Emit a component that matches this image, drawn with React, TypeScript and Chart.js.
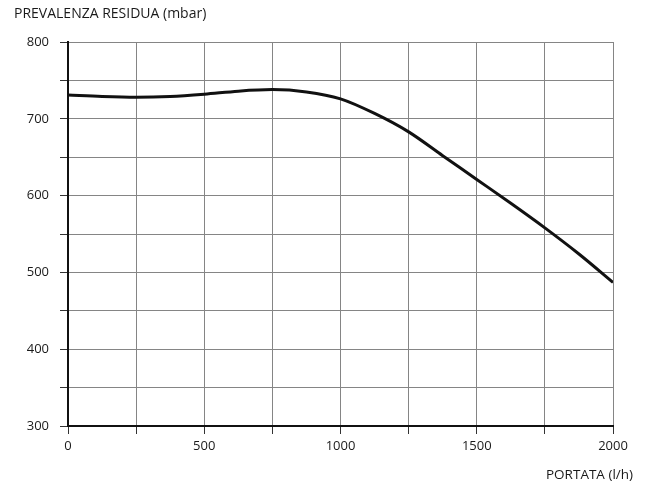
import React, { useEffect, useRef } from "react";
import { Chart, registerables } from "chart.js";

Chart.register(...registerables);

const flowRates = [0, 125, 250, 375, 500, 625, 750, 875, 1000, 1125, 1250, 1375, 1500, 1625, 1750, 1875, 2000];
const headValues = [731, 729, 728, 729, 732, 736, 738, 735, 726, 707, 683, 652, 621, 590, 558, 524, 487];
const yAxisTitle = "PREVALENZA RESIDUA (mbar)";
const xAxisTitle = "PORTATA (l/h)";
const FONT = "'Open Sans', 'Noto Sans', sans-serif";

export default function App() {
  const ref = useRef<HTMLCanvasElement>(null);
  useEffect(() => {
    document.body.style.margin = "0";
    const titles = {
      id: "titles",
      afterDraw(chart: any) {
        const ctx = chart.ctx;
        ctx.save();
        ctx.fillStyle = "#1a1a1a";
        ctx.textBaseline = "middle";
        ctx.textAlign = "left";
        ctx.font = `14px ${FONT}`;
        ctx.fillText(yAxisTitle, 14, 14);
        ctx.textAlign = "right";
        ctx.font = `13.5px ${FONT}`;
        ctx.fillText(xAxisTitle, 633, 475);
        ctx.restore();
      },
    };
    const chart = new Chart(ref.current!, {
      type: "line",
      data: {
        datasets: [
          {
            data: flowRates.map((x, i) => ({ x, y: headValues[i] })),
            borderColor: "#111",
            borderWidth: 3,
            pointRadius: 0,
            cubicInterpolationMode: "monotone",
            fill: false,
          },
        ],
      },
      options: {
        animation: false,
        responsive: false,
        layout: { padding: { top: 42, right: 32, left: 0, bottom: 0 } },
        plugins: { legend: { display: false }, tooltip: { enabled: false }, title: { display: false } },
        scales: {
          x: {
            type: "linear",
            min: 0,
            max: 2000,
            afterFit: (s: any) => { s.height = 59; },
            afterBuildTicks: (s: any) => {
              const t = [];
              for (let v = 0; v <= 2000; v += 250) t.push({ value: v });
              s.ticks = t;
            },
            ticks: {
              autoSkip: false,
              maxRotation: 0,
              padding: 4,
              color: "#1a1a1a",
              font: { family: FONT, size: 13 },
              callback: (v: any) => (v % 500 === 0 ? String(v) : ""),
            },
            grid: { color: "#858585", lineWidth: 1, tickLength: 8, tickColor: "#333" },
            border: { color: "#111", width: 2 },
          },
          y: {
            type: "linear",
            min: 300,
            max: 800,
            afterFit: (s: any) => { s.width = 68; },
            afterBuildTicks: (s: any) => {
              const t = [];
              for (let v = 300; v <= 800; v += 50) t.push({ value: v });
              s.ticks = t;
            },
            ticks: {
              autoSkip: false,
              padding: 11,
              color: "#1a1a1a",
              font: { family: FONT, size: 13 },
              callback: (v: any) => (v % 100 === 0 ? String(v) : ""),
            },
            grid: { color: "#858585", lineWidth: 1, tickLength: 8, tickColor: "#333" },
            border: { color: "#111", width: 2 },
          },
        },
      },
      plugins: [titles],
    } as any);
    return () => chart.destroy();
  }, []);
  return (
    <div style={{ position: "absolute", left: 0, top: 0, width: 645, height: 485 }}>
      <canvas ref={ref} width={645} height={485} style={{ width: 645, height: 485 }} />
    </div>
  );
}
